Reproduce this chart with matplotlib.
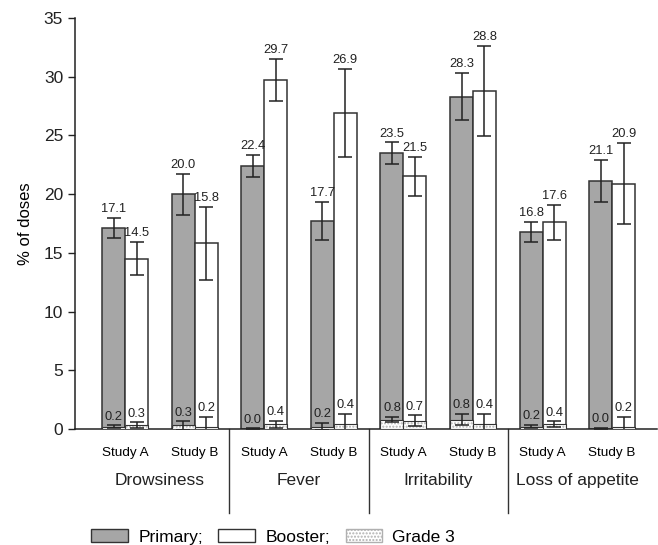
import numpy as np
import matplotlib
matplotlib.use('Agg')
import matplotlib.pyplot as plt
from matplotlib.patches import Patch

plt.rcParams['font.family'] = ['Liberation Sans', 'DejaVu Sans']

# values
categories = ['Drowsiness', 'Fever', 'Irritability', 'Loss of appetite']
studies = ['Study A', 'Study B'] * 4
primary = [17.1, 20.0, 22.4, 17.7, 23.5, 28.3, 16.8, 21.1]
primary_err = [0.85, 1.75, 0.95, 1.65, 0.9, 2.0, 0.85, 1.8]
booster = [14.5, 15.8, 29.7, 26.9, 21.5, 28.8, 17.6, 20.9]
booster_err = [1.4, 3.1, 1.8, 3.75, 1.65, 3.85, 1.5, 3.45]
grade3_primary = [0.2, 0.3, 0.0, 0.2, 0.8, 0.8, 0.2, 0.0]
grade3_primary_err = [0.1, 0.35, 0.05, 0.3, 0.2, 0.45, 0.15, 0.1]
grade3_booster = [0.3, 0.2, 0.4, 0.4, 0.7, 0.4, 0.4, 0.2]
grade3_booster_err = [0.25, 0.8, 0.3, 0.85, 0.45, 0.85, 0.25, 0.8]

gray = '#a6a6a6'
edge = '#333333'
w = 0.33
x = np.arange(len(primary))

fig = plt.figure(figsize=(6.58, 5.45), dpi=100)
ax = fig.add_axes([0.114, 0.213, 0.884, 0.754])

ek = dict(ecolor='#222222', elinewidth=1.1, capsize=5, capthick=1.1)

def draw(xs, vals, errs, g3, g3err, color):
    ax.bar(xs, vals, w, color=color, edgecolor=edge, linewidth=1.1, zorder=2)
    ax.errorbar(xs, vals, yerr=errs, fmt='none', zorder=4, **ek)
    ax.bar(xs, g3, w, color='white', edgecolor='#b0b0b0', hatch='.....',
           linewidth=0, zorder=3)
    ax.bar(xs, g3, w, color='none', edgecolor=edge, linewidth=0.8, zorder=3)
    ax.errorbar(xs, g3, yerr=g3err, fmt='none', zorder=4, **ek)
    for xi, v, e in zip(xs, vals, errs):
        ax.annotate(f'{v:.1f}', (xi, v + e), xytext=(0, 2), textcoords='offset points',
                    ha='center', va='bottom', fontsize=9.3, color='#222222')
    for xi, v, e in zip(xs, g3, g3err):
        ax.annotate(f'{v:.1f}', (xi, v + e), xytext=(0, 2), textcoords='offset points',
                    ha='center', va='bottom', fontsize=9.3, color='#222222')

draw(x - w / 2, primary, primary_err, grade3_primary, grade3_primary_err, gray)
draw(x + w / 2, booster, booster_err, grade3_booster, grade3_booster_err, 'white')

ax.set_xlim(-0.72, 7.64)
ax.set_ylim(0, 35)
ax.set_yticks(np.arange(0, 36, 5))
ax.tick_params(axis='y', labelsize=12.5, length=5, width=1, colors='#222222')
ax.set_xticks(x)
ax.set_xticklabels(studies, fontsize=9.7)
ax.tick_params(axis='x', length=0, pad=13)
ax.set_ylabel('% of doses', fontsize=12, labelpad=8)
for s in ['top', 'right']:
    ax.spines[s].set_visible(False)
for s in ['left', 'bottom']:
    ax.spines[s].set_linewidth(1.1)
    ax.spines[s].set_color('#222222')

# group separators and group names
trans = ax.get_xaxis_transform()
for sep in [1.5, 3.5, 5.5]:
    ax.plot([sep, sep], [0, -0.205], transform=trans, color='#333333', lw=1, clip_on=False)
for i, cat in enumerate(categories):
    ax.text(2 * i + 0.5, -0.125, cat, transform=trans, ha='center', va='center',
            fontsize=12.5, color='#222222')

handles = [Patch(facecolor=gray, edgecolor=edge, label='Primary;'),
           Patch(facecolor='white', edgecolor=edge, label='Booster;'),
           Patch(facecolor='white', edgecolor='#b0b0b0', hatch='.....', label='Grade 3')]
fig.legend(handles=handles, loc='lower left', bbox_to_anchor=(0.115, -0.028), ncol=3,
           frameon=False, fontsize=12.5, handlelength=2.1, handleheight=0.7,
           columnspacing=0.9, handletextpad=0.6)

fig.savefig('out.png', dpi=100)
